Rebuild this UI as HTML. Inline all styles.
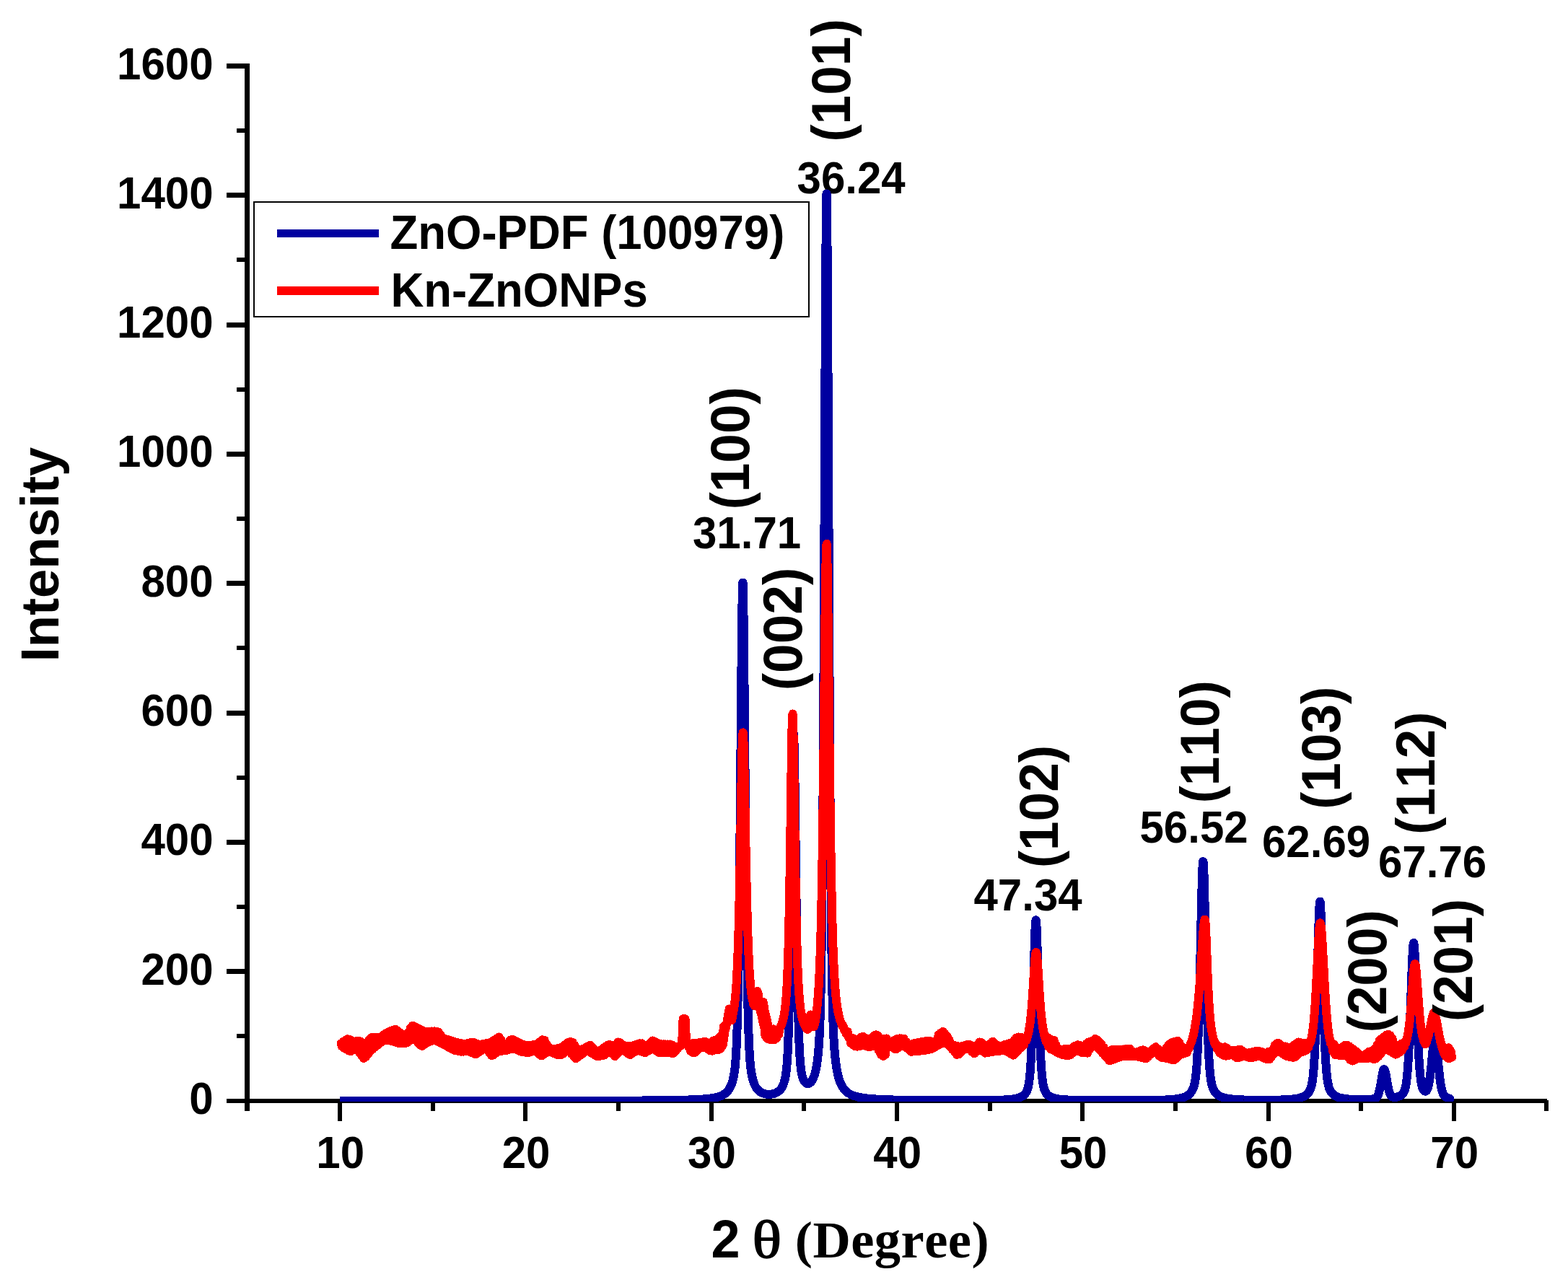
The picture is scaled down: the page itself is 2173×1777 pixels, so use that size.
<!DOCTYPE html>
<html lang="en"><head><meta charset="utf-8"><title>XRD pattern</title>
<style>html,body{margin:0;padding:0;background:#fff;overflow:hidden}svg{display:block}text{font-family:"Liberation Sans",sans-serif;font-weight:bold;fill:#000;font-kerning:none}.ser{font-family:"Liberation Serif",serif}</style></head><body>
<svg width="2173" height="1777" viewBox="0 0 2173 1777">
<rect width="2173" height="1777" fill="#fff"/>
<defs><clipPath id="plot"><rect x="343" y="0" width="1801" height="1527"/></clipPath></defs>
<g fill="#000" shape-rendering="crispEdges">
<rect x="339" y="88" width="7" height="1452"/>
<rect x="314" y="1523" width="1830" height="6"/>
<rect x="328" y="1433" width="11" height="6"/>
<rect x="314" y="1343" width="25" height="7"/>
<rect x="328" y="1254" width="11" height="6"/>
<rect x="314" y="1164" width="25" height="7"/>
<rect x="328" y="1075" width="11" height="6"/>
<rect x="314" y="985" width="25" height="7"/>
<rect x="328" y="895" width="11" height="6"/>
<rect x="314" y="805" width="25" height="7"/>
<rect x="328" y="716" width="11" height="6"/>
<rect x="314" y="626" width="25" height="7"/>
<rect x="328" y="537" width="11" height="6"/>
<rect x="314" y="447" width="25" height="7"/>
<rect x="328" y="357" width="11" height="6"/>
<rect x="314" y="267" width="25" height="7"/>
<rect x="328" y="178" width="11" height="6"/>
<rect x="314" y="88" width="25" height="7"/>
<rect x="468" y="1529" width="6" height="25"/>
<rect x="597" y="1529" width="6" height="11"/>
<rect x="725" y="1529" width="6" height="25"/>
<rect x="854" y="1529" width="6" height="11"/>
<rect x="983" y="1529" width="6" height="25"/>
<rect x="1111" y="1529" width="6" height="11"/>
<rect x="1240" y="1529" width="6" height="25"/>
<rect x="1369" y="1529" width="6" height="11"/>
<rect x="1497" y="1529" width="6" height="25"/>
<rect x="1626" y="1529" width="6" height="11"/>
<rect x="1755" y="1529" width="6" height="25"/>
<rect x="1883" y="1529" width="6" height="11"/>
<rect x="2012" y="1529" width="6" height="25"/>
<rect x="2140" y="1525" width="6" height="15"/>
</g>
<text font-size="60" text-anchor="end" transform="translate(295.5,1544.0) scale(1,1.04)">0</text>
<text font-size="60" text-anchor="end" transform="translate(295.5,1364.7) scale(1,1.04)">200</text>
<text font-size="60" text-anchor="end" transform="translate(295.5,1185.4) scale(1,1.04)">400</text>
<text font-size="60" text-anchor="end" transform="translate(295.5,1006.1) scale(1,1.04)">600</text>
<text font-size="60" text-anchor="end" transform="translate(295.5,826.8) scale(1,1.04)">800</text>
<text font-size="60" text-anchor="end" transform="translate(295.5,647.4) scale(1,1.04)">1000</text>
<text font-size="60" text-anchor="end" transform="translate(295.5,468.1) scale(1,1.04)">1200</text>
<text font-size="60" text-anchor="end" transform="translate(295.5,288.8) scale(1,1.04)">1400</text>
<text font-size="60" text-anchor="end" transform="translate(295.5,109.5) scale(1,1.04)">1600</text>
<text font-size="60" text-anchor="middle" transform="translate(471.7,1619.3) scale(1,1.04)">10</text>
<text font-size="60" text-anchor="middle" transform="translate(729.0,1619.3) scale(1,1.04)">20</text>
<text font-size="60" text-anchor="middle" transform="translate(986.4,1619.3) scale(1,1.04)">30</text>
<text font-size="60" text-anchor="middle" transform="translate(1243.7,1619.3) scale(1,1.04)">40</text>
<text font-size="60" text-anchor="middle" transform="translate(1501.0,1619.3) scale(1,1.04)">50</text>
<text font-size="60" text-anchor="middle" transform="translate(1758.4,1619.3) scale(1,1.04)">60</text>
<text font-size="60" text-anchor="middle" transform="translate(2015.7,1619.3) scale(1,1.04)">70</text>
<text font-size="72.4" text-anchor="middle" transform="translate(81.0,768.5) rotate(-90) scale(1,1.02)">Intensity</text>
<text font-size="72" transform="translate(985.6,1743.3) scale(1,1.04)" style="white-space:pre">2 </text>
<text class="ser" font-size="75" style="font-weight:normal" stroke="#000" stroke-width="1.5" stroke-linejoin="round" transform="translate(1042.6,1743) scale(1.13,0.985)">θ </text>
<text class="ser" font-size="72.5" letter-spacing="0.45" x="1101.8" y="1743.3">(Degree)</text>
<text font-size="60" transform="translate(1104.6,268.0) scale(1,1.04)">36.24</text>
<g clip-path="url(#plot)" fill="none" stroke-linejoin="round" stroke-linecap="round" shape-rendering="crispEdges">
<rect x="471" y="1520.0" width="6" height="12.0" fill="#0000A0"/>
<polyline stroke="#0000A0" stroke-width="12.0" points="476.5,1525.9 478.5,1525.9 480.5,1525.9 482.5,1525.9 484.5,1525.9 486.5,1525.9 488.5,1525.9 490.5,1525.9 492.5,1525.9 494.5,1525.9 496.5,1525.9 498.5,1525.9 500.5,1525.9 502.5,1525.9 504.5,1525.9 506.5,1525.9 508.5,1525.9 510.5,1525.9 512.5,1525.9 514.5,1525.9 516.5,1525.9 518.5,1525.9 520.5,1525.9 522.5,1525.9 524.5,1525.9 526.5,1525.9 528.5,1525.9 530.5,1525.9 532.5,1525.9 534.5,1525.9 536.5,1525.9 538.5,1525.9 540.5,1525.9 542.5,1525.9 544.5,1525.9 546.5,1525.9 548.5,1525.9 550.5,1525.9 552.5,1525.9 554.5,1525.9 556.5,1525.9 558.5,1525.9 560.5,1525.9 562.5,1525.9 564.5,1525.9 566.5,1525.9 568.5,1525.9 570.5,1525.9 572.5,1525.9 574.5,1525.9 576.5,1525.9 578.5,1525.9 580.5,1525.9 582.5,1525.9 584.5,1525.9 586.5,1525.9 588.5,1525.9 590.5,1525.9 592.5,1525.9 594.5,1525.9 596.5,1525.9 598.5,1525.9 600.5,1525.9 602.5,1525.9 604.5,1525.9 606.5,1525.9 608.5,1525.9 610.5,1525.9 612.5,1525.9 614.5,1525.9 616.5,1525.9 618.5,1525.9 620.5,1525.9 622.5,1525.9 624.5,1525.9 626.5,1525.9 628.5,1525.9 630.5,1525.9 632.5,1525.9 634.5,1525.9 636.5,1525.9 638.5,1525.9 640.5,1525.9 642.5,1525.9 644.5,1525.9 646.5,1525.9 648.5,1525.9 650.5,1525.9 652.5,1525.9 654.5,1525.9 656.5,1525.9 658.5,1525.9 660.5,1525.9 662.5,1525.9 664.5,1525.9 666.5,1525.9 668.5,1525.9 670.5,1525.9 672.5,1525.9 674.5,1525.9 676.5,1525.9 678.5,1525.9 680.5,1525.9 682.5,1525.9 684.5,1525.9 686.5,1525.9 688.5,1525.9 690.5,1525.9 692.5,1525.9 694.5,1525.9 696.5,1525.9 698.5,1525.9 700.5,1525.9 702.5,1525.9 704.5,1525.9 706.5,1525.9 708.5,1525.9 710.5,1525.9 712.5,1525.9 714.5,1525.9 716.5,1525.9 718.5,1525.9 720.5,1525.8 722.5,1525.8 724.5,1525.8 726.5,1525.8 728.5,1525.8 730.5,1525.8 732.5,1525.8 734.5,1525.8 736.5,1525.8 738.5,1525.8 740.5,1525.8 742.5,1525.8 744.5,1525.8 746.5,1525.8 748.5,1525.8 750.5,1525.8 752.5,1525.8 754.5,1525.8 756.5,1525.8 758.5,1525.8 760.5,1525.8 762.5,1525.8 764.5,1525.8 766.5,1525.8 768.5,1525.8 770.5,1525.8 772.5,1525.8 774.5,1525.8 776.5,1525.8 778.5,1525.8 780.5,1525.8 782.5,1525.8 784.5,1525.8 786.5,1525.8 788.5,1525.8 790.5,1525.8 792.5,1525.8 794.5,1525.8 796.5,1525.8 798.5,1525.8 800.5,1525.8 802.5,1525.8 804.5,1525.7 806.5,1525.7 808.5,1525.7 810.5,1525.7 812.5,1525.7 814.5,1525.7 816.5,1525.7 818.5,1525.7 820.5,1525.7 822.5,1525.7 824.5,1525.7 826.5,1525.7 828.5,1525.7 830.5,1525.7 832.5,1525.7 834.5,1525.7 836.5,1525.7 838.5,1525.7 840.5,1525.7 842.5,1525.7 844.5,1525.7 846.5,1525.6 848.5,1525.6 850.5,1525.6 852.5,1525.6 854.5,1525.6 856.5,1525.6 858.5,1525.6 860.5,1525.6 862.5,1525.6 864.5,1525.6 866.5,1525.6 868.5,1525.6 870.5,1525.6 872.5,1525.5 874.5,1525.5 876.5,1525.5 878.5,1525.5 880.5,1525.5 882.5,1525.5 884.5,1525.5 886.5,1525.5 888.5,1525.5 890.5,1525.5 892.5,1525.4 894.5,1525.4 896.5,1525.4 898.5,1525.4 900.5,1525.4 902.5,1525.4 904.5,1525.4 906.5,1525.3 908.5,1525.3 910.5,1525.3 912.5,1525.3 914.5,1525.3 916.5,1525.2 918.5,1525.2 920.5,1525.2 922.5,1525.2 924.5,1525.1 926.5,1525.1 928.5,1525.1 930.5,1525.1 932.5,1525.0 934.5,1525.0 936.5,1525.0 938.5,1524.9 940.5,1524.9 942.5,1524.8 944.5,1524.8 946.5,1524.7 948.5,1524.7 950.5,1524.6 952.5,1524.6 954.5,1524.5 956.5,1524.4 958.5,1524.4 960.5,1524.3 962.5,1524.2 964.5,1524.1 966.5,1524.0 968.5,1523.9 970.5,1523.8 972.5,1523.7 974.5,1523.5 976.5,1523.4 978.5,1523.2 980.5,1523.0 982.5,1522.8 984.5,1522.5 986.5,1522.2 988.5,1521.9 990.5,1521.5 991.0,1521.4 991.5,1521.3 992.0,1521.2 992.5,1521.1 993.0,1521.0 993.5,1520.8 994.0,1520.7 994.5,1520.6 995.0,1520.4 995.5,1520.3 996.0,1520.1 996.5,1520.0 997.0,1519.8 997.5,1519.6 998.0,1519.4 998.5,1519.3 999.0,1519.1 999.5,1518.8 1000.0,1518.6 1000.5,1518.4 1001.0,1518.1 1001.5,1517.9 1002.0,1517.6 1002.5,1517.3 1003.0,1517.0 1003.5,1516.7 1004.0,1516.4 1004.5,1516.1 1005.0,1515.7 1005.5,1515.3 1006.0,1514.9 1006.5,1514.4 1007.0,1513.9 1007.5,1513.4 1008.0,1512.9 1008.5,1512.3 1009.0,1511.7 1009.5,1511.1 1010.0,1510.4 1010.5,1509.6 1011.0,1508.8 1011.5,1507.9 1012.0,1506.9 1012.5,1505.9 1013.0,1504.8 1013.5,1503.6 1014.0,1502.2 1014.5,1500.8 1015.0,1499.1 1015.5,1497.4 1016.0,1495.4 1016.5,1493.1 1017.0,1490.6 1017.5,1487.6 1017.8,1486.0 1018.0,1484.2 1018.2,1482.3 1018.5,1480.2 1018.8,1477.8 1019.0,1475.3 1019.2,1472.4 1019.5,1469.3 1019.8,1465.8 1020.0,1462.0 1020.2,1457.7 1020.5,1452.9 1020.8,1447.5 1021.0,1441.6 1021.2,1434.9 1021.5,1427.5 1021.8,1419.3 1022.0,1410.2 1022.2,1400.1 1022.5,1388.9 1022.8,1376.6 1023.0,1363.1 1023.2,1348.4 1023.5,1332.4 1023.8,1315.0 1024.0,1296.2 1024.2,1276.0 1024.5,1254.5 1024.8,1231.6 1025.0,1207.3 1025.2,1181.8 1025.5,1155.2 1025.8,1127.6 1026.0,1099.1 1026.2,1069.9 1026.5,1040.4 1026.8,1010.8 1027.0,981.4 1027.2,952.8 1027.5,925.2 1027.8,899.3 1028.0,875.6 1028.2,854.6 1028.5,836.9 1028.8,823.0 1029.0,813.3 1029.2,808.1 1029.5,807.6 1029.8,811.8 1030.0,820.7 1030.2,833.8 1030.5,850.7 1030.8,871.1 1031.0,894.3 1031.2,919.8 1031.5,947.0 1031.8,975.5 1032.0,1004.7 1032.2,1034.3 1032.5,1063.8 1032.8,1093.0 1033.0,1121.7 1033.2,1149.5 1033.5,1176.3 1033.8,1202.0 1034.0,1226.5 1034.2,1249.7 1034.5,1271.5 1034.8,1291.9 1035.0,1310.9 1035.2,1328.6 1035.5,1344.9 1035.8,1359.8 1036.0,1373.6 1036.2,1386.1 1036.5,1397.4 1036.8,1407.7 1037.0,1417.0 1037.2,1425.4 1037.5,1432.9 1037.8,1439.7 1038.0,1445.8 1038.2,1451.2 1038.5,1456.1 1038.8,1460.5 1039.0,1464.4 1039.2,1467.9 1039.5,1471.1 1039.8,1474.0 1040.0,1476.6 1040.2,1478.9 1040.5,1481.1 1040.8,1483.0 1041.0,1484.8 1041.2,1486.5 1041.5,1488.0 1042.0,1490.7 1042.5,1493.1 1043.0,1495.2 1043.5,1497.1 1044.0,1498.7 1044.5,1500.2 1045.0,1501.6 1045.5,1502.8 1046.0,1504.0 1046.5,1505.0 1047.0,1506.0 1047.5,1506.9 1048.0,1507.7 1048.5,1508.4 1049.0,1509.1 1049.5,1509.7 1050.0,1510.3 1050.5,1510.9 1051.0,1511.4 1051.5,1511.9 1052.0,1512.3 1052.5,1512.7 1053.0,1513.1 1053.5,1513.4 1054.0,1513.7 1054.5,1514.0 1055.0,1514.3 1055.5,1514.6 1056.0,1514.8 1056.5,1515.0 1057.0,1515.3 1057.5,1515.4 1058.0,1515.6 1058.5,1515.8 1059.0,1515.9 1059.5,1516.1 1060.0,1516.2 1060.5,1516.3 1061.0,1516.4 1061.5,1516.5 1062.0,1516.6 1062.5,1516.6 1063.0,1516.7 1063.5,1516.7 1064.0,1516.8 1064.5,1516.8 1065.0,1516.8 1065.5,1516.8 1066.0,1516.8 1066.5,1516.8 1067.0,1516.8 1067.5,1516.8 1068.0,1516.7 1068.5,1516.7 1069.0,1516.6 1069.5,1516.5 1070.0,1516.5 1070.5,1516.4 1071.0,1516.3 1071.5,1516.2 1072.0,1516.0 1072.5,1515.9 1073.0,1515.8 1073.5,1515.6 1074.0,1515.4 1074.5,1515.2 1075.0,1515.0 1075.5,1514.8 1076.0,1514.5 1076.5,1514.3 1077.0,1514.0 1077.5,1513.7 1078.0,1513.4 1078.5,1513.0 1079.0,1512.6 1079.5,1512.2 1080.0,1511.8 1080.5,1511.3 1081.0,1510.7 1081.5,1510.2 1082.0,1509.5 1082.5,1508.9 1083.0,1508.1 1083.5,1507.4 1084.0,1506.5 1084.5,1505.5 1085.0,1504.5 1085.5,1503.3 1086.0,1502.0 1086.5,1500.6 1087.0,1499.0 1087.5,1497.1 1088.0,1495.0 1088.2,1493.8 1088.5,1492.5 1088.8,1491.1 1089.0,1489.5 1089.2,1487.8 1089.5,1485.9 1089.8,1483.9 1090.0,1481.6 1090.2,1479.0 1090.5,1476.2 1090.8,1473.0 1091.0,1469.5 1091.2,1465.5 1091.5,1461.2 1091.8,1456.3 1092.0,1450.8 1092.2,1444.8 1092.5,1438.1 1092.8,1430.7 1093.0,1422.5 1093.2,1413.5 1093.5,1403.7 1093.8,1393.0 1094.0,1381.3 1094.2,1368.7 1094.5,1355.1 1094.8,1340.5 1095.0,1325.0 1095.2,1308.5 1095.5,1291.1 1095.8,1272.8 1096.0,1253.8 1096.2,1234.1 1096.5,1213.9 1096.8,1193.2 1097.0,1172.4 1097.2,1151.6 1097.5,1131.1 1097.8,1111.3 1098.0,1092.3 1098.2,1074.6 1098.5,1058.7 1098.8,1044.8 1099.0,1033.3 1099.2,1024.7 1099.5,1019.1 1099.8,1016.7 1100.0,1017.7 1100.2,1021.9 1100.5,1029.3 1100.8,1039.6 1101.0,1052.5 1101.2,1067.6 1101.5,1084.5 1101.8,1102.9 1102.0,1122.4 1102.2,1142.6 1102.5,1163.2 1102.8,1184.0 1103.0,1204.6 1103.2,1225.0 1103.5,1244.8 1103.8,1264.1 1104.0,1282.6 1104.2,1300.2 1104.5,1317.0 1104.8,1332.9 1105.0,1347.7 1105.2,1361.6 1105.5,1374.6 1105.8,1386.5 1106.0,1397.5 1106.2,1407.6 1106.5,1416.9 1106.8,1425.3 1107.0,1432.9 1107.2,1439.8 1107.5,1446.0 1107.8,1451.5 1108.0,1456.5 1108.2,1461.0 1108.5,1465.0 1108.8,1468.6 1109.0,1471.8 1109.2,1474.7 1109.5,1477.3 1109.8,1479.6 1110.0,1481.6 1110.2,1483.5 1110.5,1485.1 1110.8,1486.6 1111.0,1488.0 1111.2,1489.2 1111.5,1490.3 1111.8,1491.4 1112.0,1492.3 1112.5,1493.9 1113.0,1495.4 1113.5,1496.6 1114.0,1497.6 1114.5,1498.5 1115.0,1499.3 1115.5,1499.9 1116.0,1500.5 1116.5,1500.9 1117.0,1501.3 1117.5,1501.6 1118.0,1501.9 1118.5,1502.0 1119.0,1502.1 1119.5,1502.1 1120.0,1502.1 1120.5,1502.0 1121.0,1501.9 1121.5,1501.7 1122.0,1501.4 1122.5,1501.0 1123.0,1500.6 1123.5,1500.1 1124.0,1499.6 1124.5,1499.0 1125.0,1498.3 1125.5,1497.5 1126.0,1496.6 1126.5,1495.7 1127.0,1494.6 1127.5,1493.4 1128.0,1492.1 1128.5,1490.7 1129.0,1489.1 1129.5,1487.4 1130.0,1485.5 1130.5,1483.3 1131.0,1481.0 1131.5,1478.3 1132.0,1475.4 1132.5,1472.1 1133.0,1468.4 1133.5,1464.1 1134.0,1459.1 1134.2,1456.4 1134.5,1453.3 1134.8,1450.0 1135.0,1446.4 1135.2,1442.4 1135.5,1438.0 1135.8,1433.1 1136.0,1427.6 1136.2,1421.5 1136.5,1414.7 1136.8,1407.0 1137.0,1398.5 1137.2,1388.9 1137.5,1378.1 1137.8,1365.9 1138.0,1352.4 1138.2,1337.2 1138.5,1320.2 1138.8,1301.4 1139.0,1280.4 1139.2,1257.3 1139.5,1231.8 1139.8,1203.8 1140.0,1173.3 1140.2,1140.1 1140.5,1104.3 1140.8,1065.7 1141.0,1024.5 1141.2,980.6 1141.5,934.3 1141.8,885.7 1142.0,835.1 1142.2,782.8 1142.5,729.3 1142.8,674.9 1143.0,620.4 1143.2,566.5 1143.5,514.0 1143.8,463.9 1144.0,417.1 1144.2,374.9 1144.5,338.4 1144.8,308.6 1145.0,286.5 1145.2,273.0 1145.5,268.4 1145.8,273.0 1146.0,286.6 1146.2,308.7 1146.5,338.6 1146.8,375.2 1147.0,417.4 1147.2,464.2 1147.5,514.4 1147.8,566.9 1148.0,620.9 1148.2,675.4 1148.5,729.8 1148.8,783.4 1149.0,835.8 1149.2,886.4 1149.5,935.1 1149.8,981.4 1150.0,1025.3 1150.2,1066.6 1150.5,1105.2 1150.8,1141.1 1151.0,1174.3 1151.2,1204.9 1151.5,1232.9 1151.8,1258.5 1152.0,1281.7 1152.2,1302.6 1152.5,1321.5 1152.8,1338.5 1153.0,1353.8 1153.2,1367.4 1153.5,1379.6 1153.8,1390.4 1154.0,1400.1 1154.2,1408.7 1154.5,1416.4 1154.8,1423.3 1155.0,1429.5 1155.2,1435.0 1155.5,1439.9 1155.8,1444.4 1156.0,1448.5 1156.2,1452.2 1156.5,1455.5 1156.8,1458.6 1157.0,1461.5 1157.2,1464.1 1157.5,1466.6 1158.0,1471.0 1158.5,1474.8 1159.0,1478.3 1159.5,1481.4 1160.0,1484.1 1160.5,1486.7 1161.0,1489.0 1161.5,1491.0 1162.0,1493.0 1162.5,1494.7 1163.0,1496.4 1163.5,1497.9 1164.0,1499.2 1164.5,1500.5 1165.0,1501.7 1165.5,1502.8 1166.0,1503.9 1166.5,1504.8 1167.0,1505.7 1167.5,1506.6 1168.0,1507.4 1168.5,1508.1 1169.0,1508.8 1169.5,1509.5 1170.0,1510.1 1170.5,1510.7 1171.0,1511.2 1171.5,1511.7 1172.0,1512.2 1172.5,1512.7 1173.0,1513.2 1173.5,1513.6 1174.0,1514.0 1174.5,1514.4 1175.0,1514.7 1175.5,1515.1 1176.0,1515.4 1176.5,1515.7 1177.0,1516.0 1177.5,1516.3 1178.0,1516.6 1178.5,1516.8 1179.0,1517.1 1179.5,1517.3 1180.0,1517.5 1180.5,1517.8 1181.0,1518.0 1181.5,1518.2 1182.0,1518.4 1182.5,1518.6 1183.0,1518.7 1183.5,1518.9 1184.0,1519.1 1184.5,1519.2 1185.0,1519.4 1185.5,1519.5 1187.5,1520.1 1189.5,1520.6 1191.5,1521.0 1193.5,1521.4 1195.5,1521.7 1197.5,1522.0 1199.5,1522.2 1201.5,1522.5 1203.5,1522.7 1205.5,1522.9 1207.5,1523.0 1209.5,1523.2 1211.5,1523.4 1213.5,1523.5 1215.5,1523.6 1217.5,1523.7 1219.5,1523.8 1221.5,1523.9 1223.5,1524.0 1225.5,1524.1 1227.5,1524.2 1229.5,1524.2 1231.5,1524.3 1233.5,1524.4 1235.5,1524.4 1237.5,1524.5 1239.5,1524.5 1241.5,1524.6 1243.5,1524.6 1245.5,1524.7 1247.5,1524.7 1249.5,1524.8 1251.5,1524.8 1253.5,1524.8 1255.5,1524.9 1257.5,1524.9 1259.5,1524.9 1261.5,1525.0 1263.5,1525.0 1265.5,1525.0 1267.5,1525.0 1269.5,1525.0 1271.5,1525.1 1273.5,1525.1 1275.5,1525.1 1277.5,1525.1 1279.5,1525.1 1281.5,1525.2 1283.5,1525.2 1285.5,1525.2 1287.5,1525.2 1289.5,1525.2 1291.5,1525.2 1293.5,1525.2 1295.5,1525.2 1297.5,1525.3 1299.5,1525.3 1301.5,1525.3 1303.5,1525.3 1305.5,1525.3 1307.5,1525.3 1309.5,1525.3 1311.5,1525.3 1313.5,1525.3 1315.5,1525.3 1317.5,1525.3 1319.5,1525.3 1321.5,1525.3 1323.5,1525.3 1325.5,1525.3 1327.5,1525.3 1329.5,1525.3 1331.5,1525.3 1333.5,1525.3 1335.5,1525.3 1337.5,1525.3 1339.5,1525.3 1341.5,1525.3 1343.5,1525.3 1345.5,1525.3 1347.5,1525.3 1349.5,1525.3 1351.5,1525.3 1353.5,1525.3 1355.5,1525.3 1357.5,1525.2 1359.5,1525.2 1361.5,1525.2 1363.5,1525.2 1365.5,1525.2 1367.5,1525.1 1369.5,1525.1 1371.5,1525.1 1373.5,1525.1 1375.5,1525.0 1377.5,1525.0 1379.5,1524.9 1381.5,1524.9 1383.5,1524.8 1385.5,1524.8 1387.5,1524.7 1389.5,1524.6 1391.5,1524.5 1393.5,1524.4 1395.5,1524.3 1397.5,1524.1 1398.0,1524.1 1398.5,1524.0 1399.0,1524.0 1399.5,1523.9 1400.0,1523.9 1400.5,1523.8 1401.0,1523.8 1401.5,1523.7 1402.0,1523.7 1402.5,1523.6 1403.0,1523.6 1403.5,1523.5 1404.0,1523.4 1404.5,1523.4 1405.0,1523.3 1405.5,1523.2 1406.0,1523.1 1406.5,1523.0 1407.0,1522.9 1407.5,1522.8 1408.0,1522.7 1408.5,1522.6 1409.0,1522.5 1409.5,1522.4 1410.0,1522.3 1410.5,1522.1 1411.0,1522.0 1411.5,1521.8 1412.0,1521.7 1412.5,1521.5 1413.0,1521.3 1413.5,1521.1 1414.0,1520.9 1414.5,1520.7 1415.0,1520.5 1415.5,1520.2 1416.0,1520.0 1416.5,1519.7 1417.0,1519.4 1417.5,1519.0 1418.0,1518.7 1418.5,1518.3 1419.0,1517.8 1419.5,1517.4 1420.0,1516.9 1420.5,1516.3 1421.0,1515.7 1421.5,1515.0 1422.0,1514.2 1422.5,1513.3 1423.0,1512.3 1423.5,1511.2 1424.0,1509.8 1424.2,1509.0 1424.5,1508.1 1424.8,1507.2 1425.0,1506.2 1425.2,1505.0 1425.5,1503.8 1425.8,1502.4 1426.0,1500.8 1426.2,1499.1 1426.5,1497.2 1426.8,1495.1 1427.0,1492.8 1427.2,1490.3 1427.5,1487.5 1427.8,1484.4 1428.0,1481.0 1428.2,1477.2 1428.5,1473.2 1428.8,1468.7 1429.0,1463.9 1429.2,1458.7 1429.5,1453.1 1429.8,1447.0 1430.0,1440.6 1430.2,1433.7 1430.5,1426.4 1430.8,1418.7 1431.0,1410.6 1431.2,1402.2 1431.5,1393.4 1431.8,1384.3 1432.0,1375.0 1432.2,1365.5 1432.5,1355.9 1432.8,1346.3 1433.0,1336.7 1433.2,1327.4 1433.5,1318.4 1433.8,1309.8 1434.0,1301.8 1434.2,1294.7 1434.5,1288.4 1434.8,1283.2 1435.0,1279.2 1435.2,1276.5 1435.5,1275.3 1435.8,1275.4 1436.0,1277.0 1436.2,1279.9 1436.5,1284.1 1436.8,1289.6 1437.0,1296.0 1437.2,1303.4 1437.5,1311.5 1437.8,1320.1 1438.0,1329.2 1438.2,1338.6 1438.5,1348.2 1438.8,1357.8 1439.0,1367.4 1439.2,1376.9 1439.5,1386.1 1439.8,1395.2 1440.0,1403.9 1440.2,1412.3 1440.5,1420.3 1440.8,1427.9 1441.0,1435.1 1441.2,1441.9 1441.5,1448.3 1441.8,1454.2 1442.0,1459.8 1442.2,1464.9 1442.5,1469.7 1442.8,1474.0 1443.0,1478.0 1443.2,1481.7 1443.5,1485.0 1443.8,1488.1 1444.0,1490.8 1444.2,1493.3 1444.5,1495.6 1444.8,1497.6 1445.0,1499.5 1445.2,1501.2 1445.5,1502.7 1445.8,1504.0 1446.0,1505.3 1446.2,1506.4 1446.5,1507.4 1446.8,1508.3 1447.0,1509.2 1447.2,1509.9 1447.5,1510.6 1447.8,1511.3 1448.2,1512.4 1448.8,1513.4 1449.2,1514.3 1449.8,1515.1 1450.2,1515.8 1450.8,1516.4 1451.2,1516.9 1451.8,1517.4 1452.2,1517.9 1452.8,1518.3 1453.2,1518.7 1453.8,1519.1 1454.2,1519.4 1454.8,1519.7 1455.2,1520.0 1455.8,1520.3 1456.2,1520.5 1456.8,1520.8 1457.2,1521.0 1457.8,1521.2 1458.2,1521.4 1458.8,1521.6 1459.2,1521.7 1459.8,1521.9 1460.2,1522.0 1460.8,1522.2 1461.2,1522.3 1461.8,1522.4 1462.2,1522.5 1462.8,1522.7 1463.2,1522.8 1463.8,1522.9 1464.2,1523.0 1464.8,1523.1 1465.2,1523.1 1465.8,1523.2 1466.2,1523.3 1466.8,1523.4 1467.2,1523.5 1467.8,1523.5 1468.2,1523.6 1468.8,1523.7 1469.2,1523.7 1469.8,1523.8 1470.2,1523.8 1470.8,1523.9 1471.2,1523.9 1471.8,1524.0 1472.2,1524.0 1472.8,1524.1 1473.2,1524.1 1473.8,1524.2 1474.2,1524.2 1474.8,1524.2 1475.2,1524.3 1475.8,1524.3 1477.8,1524.4 1479.8,1524.5 1481.8,1524.6 1483.8,1524.7 1485.8,1524.8 1487.8,1524.9 1489.8,1524.9 1491.8,1525.0 1493.8,1525.0 1495.8,1525.1 1497.8,1525.1 1499.8,1525.1 1501.8,1525.2 1503.8,1525.2 1505.8,1525.2 1507.8,1525.3 1509.8,1525.3 1511.8,1525.3 1513.8,1525.3 1515.8,1525.3 1517.8,1525.3 1519.8,1525.4 1521.8,1525.4 1523.8,1525.4 1525.8,1525.4 1527.8,1525.4 1529.8,1525.4 1531.8,1525.4 1533.8,1525.4 1535.8,1525.4 1537.8,1525.4 1539.8,1525.4 1541.8,1525.4 1543.8,1525.4 1545.8,1525.4 1547.8,1525.4 1549.8,1525.4 1551.8,1525.4 1553.8,1525.4 1555.8,1525.4 1557.8,1525.4 1559.8,1525.4 1561.8,1525.4 1563.8,1525.4 1565.8,1525.4 1567.8,1525.4 1569.8,1525.3 1571.8,1525.3 1573.8,1525.3 1575.8,1525.3 1577.8,1525.3 1579.8,1525.3 1581.8,1525.3 1583.8,1525.2 1585.8,1525.2 1587.8,1525.2 1589.8,1525.2 1591.8,1525.1 1593.8,1525.1 1595.8,1525.1 1597.8,1525.0 1599.8,1525.0 1601.8,1524.9 1603.8,1524.9 1605.8,1524.8 1607.8,1524.8 1609.8,1524.7 1611.8,1524.6 1613.8,1524.5 1615.8,1524.5 1617.8,1524.3 1619.8,1524.2 1621.8,1524.1 1623.8,1523.9 1625.8,1523.8 1627.8,1523.5 1628.2,1523.5 1628.8,1523.4 1629.2,1523.4 1629.8,1523.3 1630.2,1523.2 1630.8,1523.2 1631.2,1523.1 1631.8,1523.0 1632.2,1523.0 1632.8,1522.9 1633.2,1522.8 1633.8,1522.7 1634.2,1522.6 1634.8,1522.5 1635.2,1522.4 1635.8,1522.3 1636.2,1522.2 1636.8,1522.1 1637.2,1522.0 1637.8,1521.8 1638.2,1521.7 1638.8,1521.6 1639.2,1521.4 1639.8,1521.3 1640.2,1521.1 1640.8,1520.9 1641.2,1520.7 1641.8,1520.6 1642.2,1520.3 1642.8,1520.1 1643.2,1519.9 1643.8,1519.7 1644.2,1519.4 1644.8,1519.1 1645.2,1518.8 1645.8,1518.5 1646.2,1518.2 1646.8,1517.8 1647.2,1517.5 1647.8,1517.1 1648.2,1516.6 1648.8,1516.1 1649.2,1515.6 1649.8,1515.1 1650.2,1514.5 1650.8,1513.8 1651.2,1513.1 1651.8,1512.3 1652.2,1511.5 1652.8,1510.5 1653.2,1509.4 1653.8,1508.2 1654.2,1506.8 1654.8,1505.2 1655.2,1503.2 1655.8,1500.9 1656.0,1499.6 1656.2,1498.2 1656.5,1496.6 1656.8,1494.9 1657.0,1493.0 1657.2,1491.0 1657.5,1488.7 1657.8,1486.2 1658.0,1483.4 1658.2,1480.4 1658.5,1477.0 1658.8,1473.4 1659.0,1469.4 1659.2,1465.1 1659.5,1460.3 1659.8,1455.2 1660.0,1449.7 1660.2,1443.7 1660.5,1437.2 1660.8,1430.3 1661.0,1422.9 1661.2,1415.0 1661.5,1406.6 1661.8,1397.7 1662.0,1388.4 1662.2,1378.6 1662.5,1368.4 1662.8,1357.7 1663.0,1346.7 1663.2,1335.4 1663.5,1323.8 1663.8,1312.0 1664.0,1300.1 1664.2,1288.2 1664.5,1276.4 1664.8,1264.8 1665.0,1253.6 1665.2,1242.8 1665.5,1232.7 1665.8,1223.5 1666.0,1215.2 1666.2,1208.1 1666.5,1202.3 1666.8,1198.0 1667.0,1195.2 1667.2,1194.0 1667.5,1194.5 1667.8,1196.7 1668.0,1200.4 1668.2,1205.6 1668.5,1212.2 1668.8,1220.0 1669.0,1228.9 1669.2,1238.7 1669.5,1249.2 1669.8,1260.3 1670.0,1271.7 1670.2,1283.5 1670.5,1295.4 1670.8,1307.3 1671.0,1319.1 1671.2,1330.8 1671.5,1342.2 1671.8,1353.4 1672.0,1364.1 1672.2,1374.5 1672.5,1384.5 1672.8,1394.0 1673.0,1403.1 1673.2,1411.7 1673.5,1419.8 1673.8,1427.4 1674.0,1434.5 1674.2,1441.1 1674.5,1447.3 1674.8,1453.0 1675.0,1458.3 1675.2,1463.2 1675.5,1467.7 1675.8,1471.8 1676.0,1475.6 1676.2,1479.0 1676.5,1482.2 1676.8,1485.1 1677.0,1487.7 1677.2,1490.0 1677.5,1492.2 1677.8,1494.2 1678.0,1496.0 1678.2,1497.6 1678.5,1499.1 1678.8,1500.4 1679.0,1501.6 1679.2,1502.8 1679.5,1503.8 1680.0,1505.6 1680.5,1507.2 1681.0,1508.6 1681.5,1509.7 1682.0,1510.8 1682.5,1511.7 1683.0,1512.6 1683.5,1513.3 1684.0,1514.0 1684.5,1514.6 1685.0,1515.2 1685.5,1515.8 1686.0,1516.2 1686.5,1516.7 1687.0,1517.1 1687.5,1517.5 1688.0,1517.9 1688.5,1518.3 1689.0,1518.6 1689.5,1518.9 1690.0,1519.2 1690.5,1519.4 1691.0,1519.7 1691.5,1519.9 1692.0,1520.1 1692.5,1520.4 1693.0,1520.6 1693.5,1520.7 1694.0,1520.9 1694.5,1521.1 1695.0,1521.2 1695.5,1521.4 1696.0,1521.5 1696.5,1521.7 1697.0,1521.8 1697.5,1521.9 1698.0,1522.0 1698.5,1522.2 1699.0,1522.3 1699.5,1522.4 1700.0,1522.5 1700.5,1522.6 1701.0,1522.6 1701.5,1522.7 1702.0,1522.8 1702.5,1522.9 1703.0,1523.0 1703.5,1523.0 1704.0,1523.1 1704.5,1523.2 1705.0,1523.2 1705.5,1523.3 1706.0,1523.4 1706.5,1523.4 1707.0,1523.5 1707.5,1523.5 1709.5,1523.7 1711.5,1523.9 1713.5,1524.0 1715.5,1524.1 1717.5,1524.2 1719.5,1524.3 1721.5,1524.4 1723.5,1524.5 1725.5,1524.5 1727.5,1524.6 1729.5,1524.7 1731.5,1524.7 1733.5,1524.7 1735.5,1524.8 1737.5,1524.8 1739.5,1524.8 1741.5,1524.8 1743.5,1524.8 1745.5,1524.9 1747.5,1524.9 1749.5,1524.9 1751.5,1524.9 1753.5,1524.9 1755.5,1524.8 1757.5,1524.8 1759.5,1524.8 1761.5,1524.8 1763.5,1524.8 1765.5,1524.7 1767.5,1524.7 1769.5,1524.7 1771.5,1524.6 1773.5,1524.6 1775.5,1524.5 1777.5,1524.4 1779.5,1524.3 1781.5,1524.2 1783.5,1524.1 1785.5,1524.0 1787.5,1523.9 1789.5,1523.7 1790.0,1523.6 1790.5,1523.6 1791.0,1523.5 1791.5,1523.5 1792.0,1523.4 1792.5,1523.4 1793.0,1523.3 1793.5,1523.3 1794.0,1523.2 1794.5,1523.1 1795.0,1523.1 1795.5,1523.0 1796.0,1522.9 1796.5,1522.8 1797.0,1522.7 1797.5,1522.7 1798.0,1522.6 1798.5,1522.5 1799.0,1522.4 1799.5,1522.3 1800.0,1522.1 1800.5,1522.0 1801.0,1521.9 1801.5,1521.8 1802.0,1521.6 1802.5,1521.5 1803.0,1521.3 1803.5,1521.2 1804.0,1521.0 1804.5,1520.8 1805.0,1520.6 1805.5,1520.4 1806.0,1520.2 1806.5,1520.0 1807.0,1519.7 1807.5,1519.5 1808.0,1519.2 1808.5,1518.9 1809.0,1518.6 1809.5,1518.3 1810.0,1517.9 1810.5,1517.5 1811.0,1517.1 1811.5,1516.6 1812.0,1516.1 1812.5,1515.6 1813.0,1515.0 1813.5,1514.3 1814.0,1513.6 1814.5,1512.8 1815.0,1511.9 1815.5,1510.9 1816.0,1509.8 1816.5,1508.4 1817.0,1506.8 1817.5,1505.0 1817.8,1503.9 1818.0,1502.7 1818.2,1501.5 1818.5,1500.1 1818.8,1498.6 1819.0,1496.9 1819.2,1495.0 1819.5,1493.0 1819.8,1490.8 1820.0,1488.4 1820.2,1485.7 1820.5,1482.8 1820.8,1479.7 1821.0,1476.2 1821.2,1472.4 1821.5,1468.4 1821.8,1464.0 1822.0,1459.2 1822.2,1454.1 1822.5,1448.6 1822.8,1442.8 1823.0,1436.5 1823.2,1429.9 1823.5,1422.8 1823.8,1415.4 1824.0,1407.6 1824.2,1399.5 1824.5,1391.0 1824.8,1382.2 1825.0,1373.2 1825.2,1363.9 1825.5,1354.4 1825.8,1344.7 1826.0,1335.0 1826.2,1325.3 1826.5,1315.8 1826.8,1306.4 1827.0,1297.3 1827.2,1288.6 1827.5,1280.5 1827.8,1273.0 1828.0,1266.4 1828.2,1260.7 1828.5,1256.1 1828.8,1252.6 1829.0,1250.4 1829.2,1249.5 1829.5,1249.9 1829.8,1251.6 1830.0,1254.6 1830.2,1258.7 1830.5,1264.0 1830.8,1270.3 1831.0,1277.4 1831.2,1285.3 1831.5,1293.7 1831.8,1302.7 1832.0,1312.0 1832.2,1321.5 1832.5,1331.1 1832.8,1340.8 1833.0,1350.5 1833.2,1360.1 1833.5,1369.5 1833.8,1378.6 1834.0,1387.5 1834.2,1396.1 1834.5,1404.4 1834.8,1412.3 1835.0,1419.9 1835.2,1427.1 1835.5,1433.9 1835.8,1440.3 1836.0,1446.3 1836.2,1451.9 1836.5,1457.2 1836.8,1462.1 1837.0,1466.6 1837.2,1470.8 1837.5,1474.7 1837.8,1478.3 1838.0,1481.6 1838.2,1484.6 1838.5,1487.3 1838.8,1489.8 1839.0,1492.1 1839.2,1494.2 1839.5,1496.1 1839.8,1497.9 1840.0,1499.5 1840.2,1500.9 1840.5,1502.2 1840.8,1503.4 1841.0,1504.5 1841.2,1505.5 1841.5,1506.4 1842.0,1508.1 1842.5,1509.5 1843.0,1510.7 1843.5,1511.7 1844.0,1512.6 1844.5,1513.4 1845.0,1514.2 1845.5,1514.8 1846.0,1515.4 1846.5,1516.0 1847.0,1516.5 1847.5,1516.9 1848.0,1517.4 1848.5,1517.8 1849.0,1518.1 1849.5,1518.5 1850.0,1518.8 1850.5,1519.1 1851.0,1519.4 1851.5,1519.6 1852.0,1519.9 1852.5,1520.1 1853.0,1520.3 1853.5,1520.5 1854.0,1520.7 1854.5,1520.9 1855.0,1521.1 1855.5,1521.2 1856.0,1521.4 1856.5,1521.5 1857.0,1521.7 1857.5,1521.8 1858.0,1521.9 1858.5,1522.0 1859.0,1522.1 1859.5,1522.2 1860.0,1522.3 1860.5,1522.4 1861.0,1522.5 1861.5,1522.6 1862.0,1522.7 1862.5,1522.8 1863.0,1522.8 1863.5,1522.9 1864.0,1523.0 1864.5,1523.0 1865.0,1523.1 1865.5,1523.2 1866.0,1523.2 1866.5,1523.3 1867.0,1523.3 1867.5,1523.4 1868.0,1523.4 1868.5,1523.5 1869.0,1523.5 1869.5,1523.5 1871.5,1523.7 1873.5,1523.8 1875.5,1523.9 1877.5,1524.0 1879.5,1524.1 1880.0,1524.1 1880.5,1524.1 1881.0,1524.1 1881.5,1524.1 1882.0,1524.1 1882.5,1524.1 1883.0,1524.1 1883.5,1524.1 1884.0,1524.2 1884.5,1524.2 1885.0,1524.2 1885.5,1524.2 1886.0,1524.2 1886.5,1524.2 1887.0,1524.2 1887.5,1524.2 1888.0,1524.2 1888.5,1524.2 1889.0,1524.2 1889.5,1524.2 1890.0,1524.2 1890.5,1524.1 1891.0,1524.1 1891.5,1524.1 1892.0,1524.1 1892.5,1524.1 1893.0,1524.1 1893.5,1524.1 1894.0,1524.1 1894.5,1524.1 1895.0,1524.0 1895.5,1524.0 1896.0,1524.0 1896.5,1524.0 1897.0,1523.9 1897.5,1523.9 1898.0,1523.9 1898.5,1523.8 1899.0,1523.8 1899.5,1523.8 1900.0,1523.7 1900.5,1523.7 1901.0,1523.6 1901.5,1523.6 1902.0,1523.5 1902.5,1523.4 1903.0,1523.3 1903.5,1523.2 1904.0,1523.1 1904.5,1523.0 1905.0,1522.8 1905.5,1522.6 1906.0,1522.4 1906.5,1522.1 1906.8,1521.9 1907.0,1521.8 1907.2,1521.5 1907.5,1521.3 1907.8,1521.0 1908.0,1520.8 1908.2,1520.4 1908.5,1520.1 1908.8,1519.7 1909.0,1519.2 1909.2,1518.8 1909.5,1518.2 1909.8,1517.7 1910.0,1517.0 1910.2,1516.4 1910.5,1515.6 1910.8,1514.8 1911.0,1514.0 1911.2,1513.0 1911.5,1512.1 1911.8,1511.0 1912.0,1509.9 1912.2,1508.8 1912.5,1507.5 1912.8,1506.3 1913.0,1504.9 1913.2,1503.6 1913.5,1502.2 1913.8,1500.7 1914.0,1499.3 1914.2,1497.8 1914.5,1496.3 1914.8,1494.8 1915.0,1493.3 1915.2,1491.9 1915.5,1490.5 1915.8,1489.1 1916.0,1487.9 1916.2,1486.7 1916.5,1485.6 1916.8,1484.7 1917.0,1483.8 1917.2,1483.2 1917.5,1482.6 1917.8,1482.3 1918.0,1482.1 1918.2,1482.1 1918.5,1482.3 1918.8,1482.7 1919.0,1483.2 1919.2,1483.9 1919.5,1484.7 1919.8,1485.6 1920.0,1486.7 1920.2,1487.9 1920.5,1489.1 1920.8,1490.5 1921.0,1491.8 1921.2,1493.3 1921.5,1494.7 1921.8,1496.2 1922.0,1497.6 1922.2,1499.1 1922.5,1500.5 1922.8,1501.9 1923.0,1503.3 1923.2,1504.6 1923.5,1505.9 1923.8,1507.1 1924.0,1508.3 1924.2,1509.4 1924.5,1510.5 1924.8,1511.5 1925.0,1512.4 1925.2,1513.3 1925.5,1514.1 1925.8,1514.8 1926.0,1515.5 1926.2,1516.1 1926.5,1516.7 1926.8,1517.3 1927.0,1517.7 1927.2,1518.2 1927.5,1518.6 1927.8,1518.9 1928.0,1519.2 1928.2,1519.5 1928.5,1519.7 1928.8,1519.9 1929.0,1520.1 1929.2,1520.3 1929.5,1520.4 1929.8,1520.6 1930.0,1520.7 1930.2,1520.7 1930.8,1520.9 1931.2,1521.0 1931.8,1521.0 1932.2,1521.0 1932.8,1521.0 1933.2,1521.0 1933.8,1521.0 1934.2,1520.9 1934.8,1520.8 1935.2,1520.7 1935.8,1520.6 1936.2,1520.5 1936.8,1520.4 1937.2,1520.2 1937.8,1520.1 1938.2,1519.9 1938.8,1519.7 1939.2,1519.5 1939.8,1519.2 1940.2,1519.0 1940.8,1518.7 1941.2,1518.4 1941.8,1518.0 1942.2,1517.7 1942.8,1517.2 1943.2,1516.8 1943.8,1516.3 1944.2,1515.6 1944.8,1514.9 1945.2,1514.1 1945.8,1513.2 1946.2,1512.0 1946.8,1510.7 1947.2,1509.0 1947.5,1508.1 1947.8,1507.0 1948.0,1505.8 1948.2,1504.6 1948.5,1503.2 1948.8,1501.7 1949.0,1500.0 1949.2,1498.1 1949.5,1496.1 1949.8,1493.9 1950.0,1491.5 1950.2,1488.9 1950.5,1486.0 1950.8,1482.9 1951.0,1479.6 1951.2,1476.0 1951.5,1472.2 1951.8,1468.1 1952.0,1463.7 1952.2,1459.0 1952.5,1454.0 1952.8,1448.8 1953.0,1443.3 1953.2,1437.5 1953.5,1431.4 1953.8,1425.1 1954.0,1418.6 1954.2,1411.9 1954.5,1405.0 1954.8,1397.9 1955.0,1390.8 1955.2,1383.5 1955.5,1376.3 1955.8,1369.0 1956.0,1361.8 1956.2,1354.8 1956.5,1347.9 1956.8,1341.4 1957.0,1335.2 1957.2,1329.4 1957.5,1324.1 1957.8,1319.4 1958.0,1315.4 1958.2,1312.1 1958.5,1309.6 1958.8,1307.9 1959.0,1307.1 1959.2,1307.1 1959.5,1308.1 1959.8,1309.9 1960.0,1312.6 1960.2,1316.0 1960.5,1320.1 1960.8,1324.9 1961.0,1330.3 1961.2,1336.1 1961.5,1342.4 1961.8,1349.0 1962.0,1355.8 1962.2,1362.9 1962.5,1370.0 1962.8,1377.3 1963.0,1384.5 1963.2,1391.7 1963.5,1398.8 1963.8,1405.8 1964.0,1412.6 1964.2,1419.3 1964.5,1425.7 1964.8,1431.9 1965.0,1437.9 1965.2,1443.6 1965.5,1449.0 1965.8,1454.2 1966.0,1459.0 1966.2,1463.6 1966.5,1467.9 1966.8,1471.9 1967.0,1475.7 1967.2,1479.2 1967.5,1482.4 1967.8,1485.4 1968.0,1488.1 1968.2,1490.7 1968.5,1493.0 1968.8,1495.1 1969.0,1497.0 1969.2,1498.8 1969.5,1500.4 1969.8,1501.8 1970.0,1503.1 1970.2,1504.3 1970.5,1505.3 1970.8,1506.3 1971.0,1507.2 1971.2,1507.9 1971.8,1509.2 1972.2,1510.3 1972.8,1511.1 1973.2,1511.7 1973.8,1512.2 1974.2,1512.5 1974.8,1512.6 1975.2,1512.7 1975.8,1512.6 1976.2,1512.3 1976.8,1511.9 1977.0,1511.6 1977.2,1511.2 1977.5,1510.9 1977.8,1510.4 1978.0,1509.9 1978.2,1509.3 1978.5,1508.7 1978.8,1508.0 1979.0,1507.2 1979.2,1506.3 1979.5,1505.4 1979.8,1504.3 1980.0,1503.2 1980.2,1502.0 1980.5,1500.7 1980.8,1499.3 1981.0,1497.7 1981.2,1496.1 1981.5,1494.4 1981.8,1492.6 1982.0,1490.6 1982.2,1488.6 1982.5,1486.5 1982.8,1484.3 1983.0,1482.0 1983.2,1479.6 1983.5,1477.2 1983.8,1474.7 1984.0,1472.1 1984.2,1469.5 1984.5,1466.8 1984.8,1464.2 1985.0,1461.6 1985.2,1458.9 1985.5,1456.3 1985.8,1453.8 1986.0,1451.4 1986.2,1449.1 1986.5,1446.9 1986.8,1444.8 1987.0,1443.0 1987.2,1441.4 1987.5,1440.0 1987.8,1438.9 1988.0,1438.0 1988.2,1437.5 1988.5,1437.3 1988.8,1437.3 1989.0,1437.7 1989.2,1438.4 1989.5,1439.4 1989.8,1440.6 1990.0,1442.2 1990.2,1443.9 1990.5,1445.9 1990.8,1448.0 1991.0,1450.3 1991.2,1452.7 1991.5,1455.3 1991.8,1457.9 1992.0,1460.6 1992.2,1463.3 1992.5,1466.0 1992.8,1468.8 1993.0,1471.5 1993.2,1474.2 1993.5,1476.9 1993.8,1479.5 1994.0,1482.0 1994.2,1484.4 1994.5,1486.8 1994.8,1489.1 1995.0,1491.3 1995.2,1493.4 1995.5,1495.4 1995.8,1497.4 1996.0,1499.2 1996.2,1500.9 1996.5,1502.5 1996.8,1504.0 1997.0,1505.4 1997.2,1506.8 1997.5,1508.0 1997.8,1509.2 1998.0,1510.2 1998.2,1511.2 1998.5,1512.1 1998.8,1513.0 1999.0,1513.8 1999.2,1514.5 1999.5,1515.1 1999.8,1515.7 2000.0,1516.3 2000.2,1516.8 2000.5,1517.3 2000.8,1517.7 2001.2,1518.4 2001.8,1519.1 2002.2,1519.6 2002.8,1520.1 2003.2,1520.5 2003.8,1520.8 2004.2,1521.1 2004.8,1521.3 2005.2,1521.6 2005.8,1521.8 2006.2,1522.0 2006.8,1522.1 2007.2,1522.3 2007.8,1522.4 2008.2,1522.6 2008.8,1522.7 2009.2,1522.8"/>
<polyline stroke="#FF0000" stroke-width="12.0" points="472.6,1446.2 474.1,1450.8 475.6,1443.7 477.1,1452.8 478.6,1442.0 480.1,1454.7 481.6,1440.3 483.1,1456.6 484.6,1441.1 486.1,1457.1 487.6,1442.5 489.1,1455.4 490.6,1443.8 492.1,1453.7 493.6,1443.2 495.1,1455.3 496.6,1442.6 498.1,1459.2 499.6,1443.7 501.1,1463.0 502.6,1445.2 504.1,1466.9 505.6,1446.7 507.1,1464.5 508.6,1444.9 510.1,1460.8 511.6,1441.5 513.1,1457.1 514.6,1438.2 516.1,1454.3 517.6,1437.7 519.1,1451.9 520.6,1437.7 522.1,1449.5 523.6,1437.7 525.1,1447.1 526.6,1437.7 528.1,1444.7 529.6,1436.0 531.1,1442.3 532.6,1433.7 534.1,1442.3 535.6,1431.7 537.1,1442.3 538.6,1430.3 540.1,1442.3 541.6,1428.9 543.1,1443.2 544.6,1427.6 546.1,1444.1 547.6,1426.8 549.1,1445.0 550.6,1428.8 552.1,1446.0 553.6,1430.9 555.1,1446.5 556.6,1433.0 558.1,1446.5 559.6,1434.0 561.1,1446.5 562.6,1434.6 564.1,1445.5 565.6,1431.6 567.1,1442.8 568.6,1425.3 570.1,1440.1 571.6,1421.6 573.1,1438.7 574.6,1423.0 576.1,1442.0 577.6,1424.3 579.1,1445.4 580.6,1425.9 582.1,1448.7 583.6,1427.5 585.1,1449.8 586.6,1429.1 588.1,1447.8 589.6,1429.8 591.1,1445.9 592.6,1430.1 594.1,1444.3 595.6,1429.9 597.1,1443.4 598.6,1429.5 600.1,1442.5 601.6,1429.4 603.1,1442.0 604.6,1429.8 606.1,1443.5 607.6,1430.6 609.1,1445.0 610.6,1434.7 612.1,1446.5 613.6,1438.8 615.1,1448.0 616.6,1440.0 618.1,1449.6 619.6,1440.8 621.1,1451.2 622.6,1441.6 624.1,1452.9 625.6,1442.6 627.1,1454.5 628.6,1443.6 630.1,1455.8 631.6,1444.6 633.1,1456.5 634.6,1445.4 636.1,1457.2 637.6,1446.0 639.1,1457.7 640.6,1446.5 642.1,1457.6 643.6,1447.1 645.1,1457.5 646.6,1446.5 648.1,1457.4 649.6,1445.7 651.1,1458.0 652.6,1444.8 654.1,1459.3 655.6,1444.8 657.1,1460.6 658.6,1445.9 660.1,1460.9 661.6,1446.9 663.1,1458.7 664.6,1448.0 666.1,1456.6 667.6,1447.5 669.1,1454.4 670.6,1446.9 672.1,1452.3 673.6,1446.3 675.1,1455.6 676.6,1445.7 678.1,1459.3 679.6,1444.9 681.1,1463.0 682.6,1443.0 684.1,1462.1 685.6,1441.2 687.1,1459.8 688.6,1439.3 690.1,1457.6 691.6,1437.5 693.1,1456.8 694.6,1441.7 696.1,1456.6 697.6,1447.2 699.1,1456.5 700.6,1449.7 702.1,1456.0 703.6,1445.8 705.1,1455.0 706.6,1442.0 708.1,1454.0 709.6,1440.7 711.1,1453.1 712.6,1442.1 714.1,1454.4 715.6,1443.5 717.1,1455.6 718.6,1444.9 720.1,1456.9 721.6,1446.2 723.1,1457.9 724.6,1447.5 726.1,1458.3 727.6,1448.5 729.1,1458.8 730.6,1448.8 732.1,1459.2 733.6,1449.0 735.1,1458.3 736.6,1448.6 738.1,1457.1 739.6,1448.0 741.1,1455.9 742.6,1447.4 744.1,1458.7 745.6,1445.9 747.1,1461.5 748.6,1443.6 750.1,1463.5 751.6,1441.3 753.1,1461.6 754.6,1442.1 756.1,1459.8 757.6,1447.2 759.1,1457.9 760.6,1452.3 762.1,1457.4 763.6,1453.4 765.1,1458.9 766.6,1454.0 768.1,1460.4 769.6,1454.0 771.1,1461.6 772.6,1453.2 774.1,1462.0 775.6,1452.5 777.1,1462.3 778.6,1451.3 780.1,1461.0 781.6,1449.1 783.1,1457.6 784.6,1446.8 786.1,1454.2 787.6,1444.6 789.1,1457.3 790.6,1443.9 792.1,1460.9 793.6,1444.9 795.1,1464.5 796.6,1449.2 798.1,1467.2 799.6,1455.7 801.1,1465.1 802.6,1456.4 804.1,1463.0 805.6,1454.9 807.1,1460.8 808.6,1453.4 810.1,1458.5 811.6,1451.8 813.1,1456.3 814.6,1450.1 816.1,1457.4 817.6,1448.7 819.1,1459.3 820.6,1451.4 822.1,1461.1 823.6,1454.2 825.1,1463.0 826.6,1456.9 828.1,1464.2 829.6,1457.5 831.1,1463.7 832.6,1455.3 834.1,1463.1 835.6,1453.1 837.1,1462.6 838.6,1451.0 840.1,1460.4 841.6,1448.8 843.1,1457.7 844.6,1448.1 846.1,1457.0 847.6,1449.5 849.1,1460.9 850.6,1450.8 852.1,1464.1 853.6,1447.8 855.1,1461.1 856.6,1444.4 858.1,1458.1 859.6,1445.3 861.1,1455.1 862.6,1447.9 864.1,1455.6 865.6,1450.0 867.1,1458.0 868.6,1450.0 870.1,1460.5 871.6,1450.0 873.1,1462.1 874.6,1450.0 876.1,1460.2 877.6,1449.3 879.1,1458.3 880.6,1448.3 882.1,1456.4 883.6,1447.3 885.1,1456.5 886.6,1446.3 888.1,1457.4 889.6,1446.4 891.1,1458.3 892.6,1448.5 894.1,1459.2 895.6,1450.6 897.1,1457.5 898.6,1448.4 900.1,1455.7 901.6,1445.4 903.1,1453.9 904.6,1442.5 906.1,1454.2 907.6,1444.1 909.1,1456.4 910.6,1445.8 912.1,1458.6 913.6,1447.2 915.1,1459.2 916.6,1447.3 918.1,1459.0 919.6,1447.4 921.1,1458.8 922.6,1447.5 924.1,1458.9 925.6,1447.5 927.1,1459.3 928.6,1447.5 930.1,1459.6 931.6,1448.5 933.1,1459.9 934.6,1450.3 936.1,1457.2 937.6,1450.9 939.1,1453.6 940.6,1450.9 942.1,1450.5 943.6,1449.3 945.1,1446.4 946.6,1412.3 948.1,1445.4 949.6,1412.3 951.1,1445.3 952.6,1446.9 954.1,1451.2 955.6,1446.8 957.1,1457.0 958.6,1446.5 960.1,1459.1 961.6,1446.1 963.1,1458.8 964.6,1445.8 966.1,1456.1 967.6,1445.5 969.1,1452.6 970.6,1445.1 972.1,1452.1 973.6,1444.4 975.1,1452.1 976.6,1443.6 978.1,1452.7 979.6,1445.0 981.1,1454.5 982.6,1446.7 984.1,1456.3 985.6,1445.4 987.1,1456.6 988.6,1442.4 990.1,1455.5 991.6,1441.5 993.1,1455.4 994.6,1442.4 996.1,1454.9 997.6,1437.4 998.1,1454.0 998.6,1436.3 999.1,1452.7 999.6,1435.8 1000.1,1451.2 1000.6,1435.2 1001.1,1449.7 1001.6,1433.8 1002.1,1447.1 1002.6,1423.5 1003.1,1441.9 1003.6,1422.3 1004.1,1434.5 1004.6,1421.7 1005.1,1427.2 1005.6,1421.3 1006.1,1423.8 1006.6,1419.8 1007.1,1419.5 1007.6,1415.9 1008.1,1413.9 1008.6,1410.1 1009.1,1407.7 1009.6,1404.0 1010.1,1403.4 1010.6,1398.5 1011.1,1408.8 1011.6,1398.9 1012.1,1404.9 1012.6,1402.8 1013.1,1407.8 1013.6,1403.3 1014.1,1414.2 1014.6,1398.9 1015.1,1410.5 1015.6,1403.2 1016.1,1404.5 1016.6,1400.4 1017.1,1398.8 1017.6,1394.7 1018.1,1391.6 1018.6,1386.9 1019.1,1382.3 1019.6,1376.5 1020.1,1370.1 1020.6,1362.5 1021.1,1353.9 1021.6,1343.9 1022.1,1332.5 1022.6,1319.2 1023.1,1304.1 1023.6,1286.9 1024.1,1267.5 1024.6,1245.8 1025.1,1221.8 1025.6,1195.6 1026.1,1167.5 1026.6,1138.1 1027.1,1108.4 1027.6,1079.9 1028.1,1054.3 1028.6,1033.7 1029.1,1020.3 1029.6,1015.4 1030.1,1019.3 1030.6,1030.8 1031.1,1048.8 1031.6,1071.6 1032.1,1097.4 1032.6,1124.6 1033.1,1152.0 1033.6,1178.6 1034.1,1203.8 1034.6,1227.1 1035.1,1248.5 1035.6,1267.8 1036.1,1285.1 1036.6,1300.5 1037.1,1314.0 1037.6,1325.9 1038.1,1336.3 1038.6,1345.3 1039.1,1353.1 1039.6,1359.8 1040.1,1365.8 1040.6,1370.7 1041.1,1375.3 1041.6,1378.7 1042.1,1382.3 1042.6,1384.4 1043.1,1387.5 1043.6,1387.4 1044.1,1391.7 1044.6,1385.0 1045.1,1393.8 1045.6,1388.5 1046.1,1389.2 1046.6,1386.6 1047.1,1384.7 1047.6,1381.7 1048.1,1379.2 1048.6,1376.6 1049.1,1375.5 1049.6,1373.7 1050.1,1375.6 1050.6,1377.0 1051.1,1380.6 1051.6,1385.1 1052.1,1390.0 1052.6,1394.3 1053.1,1398.3 1053.6,1400.5 1054.1,1403.3 1054.6,1402.3 1055.1,1406.6 1055.6,1399.2 1056.1,1411.3 1056.6,1393.8 1057.1,1416.2 1057.6,1388.7 1058.1,1419.9 1058.6,1393.3 1059.1,1424.4 1059.6,1401.0 1060.1,1433.5 1060.6,1405.0 1061.1,1436.5 1061.6,1408.6 1062.1,1437.8 1062.6,1412.3 1063.1,1438.9 1063.6,1417.8 1064.1,1440.0 1065.6,1426.2 1067.1,1440.9 1068.6,1427.3 1070.1,1440.6 1071.6,1426.4 1073.1,1441.2 1074.6,1428.7 1076.1,1439.3 1077.6,1429.7 1079.1,1434.0 1080.6,1425.2 1082.1,1422.8 1083.6,1418.5 1085.1,1414.0 1085.6,1411.7 1086.1,1409.7 1086.6,1406.9 1087.1,1404.1 1087.6,1400.7 1088.1,1396.9 1088.6,1392.4 1089.1,1387.2 1089.6,1381.0 1090.1,1373.8 1090.6,1365.1 1091.1,1354.8 1091.6,1342.5 1092.1,1327.9 1092.6,1310.7 1093.1,1290.6 1093.6,1267.2 1094.1,1240.3 1094.6,1209.9 1095.1,1176.2 1095.6,1139.8 1096.1,1102.0 1096.6,1065.0 1097.1,1031.7 1097.6,1005.8 1098.1,991.0 1098.6,989.5 1099.1,1000.7 1099.6,1022.5 1100.1,1052.3 1100.6,1086.5 1101.1,1122.5 1101.6,1158.0 1102.1,1191.5 1102.6,1222.3 1103.1,1250.0 1103.6,1274.6 1104.1,1296.0 1104.6,1314.5 1105.1,1330.4 1105.6,1344.0 1106.1,1355.5 1106.6,1365.2 1107.1,1373.5 1107.6,1380.5 1108.1,1386.4 1108.6,1391.5 1109.1,1395.9 1109.6,1399.5 1110.1,1402.9 1110.6,1405.5 1111.1,1408.3 1111.6,1410.1 1112.1,1412.5 1112.6,1413.5 1113.1,1415.9 1113.6,1416.1 1114.1,1418.7 1114.6,1417.9 1115.1,1421.0 1115.6,1419.1 1116.1,1422.9 1116.6,1420.5 1117.1,1425.2 1117.6,1423.0 1118.1,1426.7 1118.6,1425.5 1119.1,1426.9 1119.6,1426.5 1120.1,1425.8 1120.6,1424.1 1121.1,1421.4 1121.6,1418.0 1122.1,1414.1 1122.6,1410.3 1123.1,1407.5 1123.6,1406.5 1124.1,1406.6 1124.6,1408.5 1125.1,1411.7 1125.6,1415.3 1126.1,1418.6 1126.6,1421.2 1127.1,1422.8 1127.6,1423.1 1128.1,1422.4 1128.6,1421.1 1129.1,1419.1 1129.6,1416.8 1130.1,1414.0 1130.6,1410.9 1131.1,1407.4 1131.6,1403.5 1132.1,1399.1 1132.6,1394.3 1133.1,1388.8 1133.6,1382.7 1134.1,1375.7 1134.6,1367.8 1135.1,1358.7 1135.6,1348.3 1136.1,1336.3 1136.6,1322.6 1137.1,1306.8 1137.6,1288.7 1138.1,1267.9 1138.6,1244.3 1139.1,1217.5 1139.6,1187.4 1140.1,1153.7 1140.6,1116.3 1141.1,1075.5 1141.6,1031.6 1142.1,985.1 1142.6,937.3 1143.1,890.0 1143.6,845.4 1144.1,806.5 1144.6,776.5 1145.1,758.3 1145.6,753.8 1146.1,763.1 1146.6,785.0 1147.1,817.3 1147.6,857.1 1148.1,901.4 1148.6,947.7 1149.1,993.9 1149.6,1038.5 1150.1,1080.5 1150.6,1119.4 1151.1,1154.8 1151.6,1186.9 1152.1,1215.5 1152.6,1240.9 1153.1,1263.4 1153.6,1283.1 1154.1,1300.3 1154.6,1315.2 1155.1,1328.3 1155.6,1339.6 1156.1,1349.4 1156.6,1358.0 1157.1,1365.4 1157.6,1372.0 1158.1,1377.7 1158.6,1382.8 1159.1,1387.3 1159.6,1391.2 1161.1,1401.1 1162.6,1407.9 1164.1,1414.0 1165.6,1417.2 1167.1,1422.0 1168.6,1422.1 1170.1,1428.3 1171.6,1429.3 1173.1,1433.4 1174.6,1429.8 1176.1,1437.9 1177.6,1437.1 1179.1,1445.9 1180.6,1438.5 1182.1,1448.3 1183.6,1440.1 1185.1,1450.2 1186.6,1442.1 1188.1,1450.6 1189.6,1440.2 1191.1,1450.1 1192.6,1438.1 1194.1,1447.6 1195.6,1436.6 1197.1,1449.2 1198.6,1438.6 1200.1,1450.1 1201.6,1440.0 1203.1,1450.9 1204.6,1439.7 1206.1,1450.9 1207.6,1438.6 1209.1,1450.3 1210.6,1436.1 1212.1,1448.8 1213.6,1434.4 1215.1,1448.9 1216.6,1435.4 1218.1,1456.8 1219.6,1439.9 1221.1,1462.1 1222.6,1439.8 1224.1,1463.9 1225.6,1439.6 1227.1,1461.6 1228.6,1439.4 1230.1,1451.6 1231.6,1442.9 1233.1,1448.3 1234.6,1444.4 1236.1,1451.0 1237.6,1442.8 1239.1,1453.7 1240.6,1441.2 1242.1,1454.0 1243.6,1439.6 1245.1,1452.2 1246.6,1439.4 1248.1,1450.5 1249.6,1439.5 1251.1,1448.7 1252.6,1439.6 1254.1,1450.3 1255.6,1443.8 1257.1,1452.8 1258.6,1448.1 1260.1,1455.3 1261.6,1448.2 1263.1,1457.8 1264.6,1447.1 1266.1,1457.5 1267.6,1446.1 1269.1,1457.2 1270.6,1445.5 1272.1,1456.9 1273.6,1444.9 1275.1,1456.6 1276.6,1444.3 1278.1,1456.3 1279.6,1443.8 1281.1,1456.0 1282.6,1443.3 1284.1,1455.4 1285.6,1442.8 1287.1,1454.8 1288.6,1442.9 1290.1,1454.2 1291.6,1444.1 1293.1,1453.0 1294.6,1445.3 1296.1,1451.2 1297.6,1444.1 1299.1,1449.5 1300.6,1434.4 1302.1,1447.7 1303.6,1431.8 1305.1,1446.5 1306.6,1429.9 1308.1,1445.3 1309.6,1433.1 1311.1,1445.5 1312.6,1436.3 1314.1,1448.5 1315.6,1441.9 1317.1,1451.5 1318.6,1447.5 1320.1,1454.9 1321.6,1448.6 1323.1,1458.4 1324.6,1449.5 1326.1,1461.9 1327.6,1450.4 1329.1,1461.1 1330.6,1450.6 1332.1,1458.3 1333.6,1449.8 1335.1,1455.4 1336.6,1449.1 1338.1,1453.7 1339.6,1448.3 1341.1,1453.2 1342.6,1447.6 1344.1,1455.0 1345.6,1448.8 1347.1,1458.0 1348.6,1450.3 1350.1,1460.3 1351.6,1451.0 1353.1,1457.6 1354.6,1447.8 1356.1,1455.0 1357.6,1444.5 1359.1,1455.4 1360.6,1445.3 1362.1,1457.6 1363.6,1448.1 1365.1,1459.6 1366.6,1450.9 1368.1,1459.1 1369.6,1449.2 1371.1,1458.6 1372.6,1446.2 1374.1,1458.2 1375.6,1443.7 1377.1,1457.7 1378.6,1446.2 1380.1,1457.3 1381.6,1448.7 1383.1,1456.9 1384.6,1449.8 1386.1,1456.6 1387.6,1450.1 1389.1,1456.3 1390.6,1448.8 1392.1,1456.0 1393.6,1447.6 1395.1,1457.2 1396.6,1446.7 1398.1,1459.1 1399.6,1445.8 1401.1,1461.0 1402.6,1444.9 1404.1,1462.7 1405.6,1441.8 1407.1,1460.1 1408.6,1438.4 1410.1,1457.0 1411.6,1437.5 1413.1,1453.4 1414.6,1437.6 1416.1,1451.2 1417.6,1440.6 1419.1,1448.4 1420.6,1439.4 1422.1,1442.6 1422.6,1437.4 1423.1,1439.8 1423.6,1435.7 1424.1,1436.6 1424.6,1433.1 1425.1,1432.6 1425.6,1429.4 1426.1,1427.7 1426.6,1424.2 1427.1,1421.5 1427.6,1417.5 1428.1,1413.6 1428.6,1408.8 1429.1,1403.8 1429.6,1398.0 1430.1,1391.9 1430.6,1385.1 1431.1,1377.9 1431.6,1370.2 1432.1,1362.3 1432.6,1354.3 1433.1,1346.4 1433.6,1338.8 1434.1,1332.1 1434.6,1326.5 1435.1,1322.4 1435.6,1320.0 1436.1,1320.2 1436.6,1321.8 1437.1,1325.6 1437.6,1330.9 1438.1,1337.5 1438.6,1344.8 1439.1,1352.7 1439.6,1360.8 1440.1,1368.7 1440.6,1376.4 1441.1,1383.8 1441.6,1390.6 1442.1,1397.0 1442.6,1402.7 1443.1,1408.0 1443.6,1412.6 1444.1,1417.1 1444.6,1420.5 1445.1,1424.3 1445.6,1426.5 1446.1,1430.0 1446.6,1430.9 1447.1,1434.7 1447.6,1434.0 1448.1,1438.5 1448.6,1436.0 1449.1,1441.9 1449.6,1437.2 1450.1,1444.8 1451.6,1438.1 1453.1,1451.0 1454.6,1439.9 1456.1,1454.3 1457.6,1442.1 1459.1,1455.6 1460.6,1441.9 1462.1,1457.0 1463.6,1449.0 1465.1,1458.9 1466.6,1453.5 1468.1,1460.4 1469.6,1454.8 1471.1,1461.7 1472.6,1454.9 1474.1,1462.3 1475.6,1454.0 1477.1,1462.9 1478.6,1453.7 1480.1,1463.5 1481.6,1455.6 1483.1,1462.5 1484.6,1453.6 1486.1,1460.0 1487.6,1451.1 1489.1,1457.5 1490.6,1449.4 1492.1,1456.3 1493.6,1448.3 1495.1,1457.4 1496.6,1449.0 1498.1,1458.6 1499.6,1450.1 1501.1,1459.3 1502.6,1451.3 1504.1,1459.5 1505.6,1446.7 1507.1,1459.6 1508.6,1444.4 1510.1,1454.5 1511.6,1444.1 1513.1,1448.5 1514.6,1442.3 1516.1,1448.3 1517.6,1440.0 1519.1,1451.0 1520.6,1441.7 1522.1,1453.7 1523.6,1444.3 1525.1,1456.6 1526.6,1447.4 1528.1,1459.9 1529.6,1451.9 1531.1,1463.3 1532.6,1456.1 1534.1,1466.6 1535.6,1457.8 1537.1,1469.9 1538.6,1456.3 1540.1,1469.7 1541.6,1455.0 1543.1,1468.6 1544.6,1455.0 1546.1,1467.5 1547.6,1455.0 1549.1,1466.4 1550.6,1455.0 1552.1,1465.2 1553.6,1454.7 1555.1,1464.0 1556.6,1454.5 1558.1,1463.6 1559.6,1454.3 1561.1,1463.9 1562.6,1454.0 1564.1,1464.2 1565.6,1453.8 1567.1,1464.4 1568.6,1456.9 1570.1,1464.4 1571.6,1460.4 1573.1,1464.4 1574.6,1459.0 1576.1,1464.5 1577.6,1457.6 1579.1,1465.3 1580.6,1456.2 1582.1,1466.0 1583.6,1455.4 1585.1,1466.7 1586.6,1456.4 1588.1,1467.4 1589.6,1457.5 1591.1,1464.9 1592.6,1458.3 1594.1,1461.9 1595.6,1455.9 1597.1,1458.7 1598.6,1453.5 1600.1,1456.2 1601.6,1451.1 1603.1,1459.9 1604.6,1453.9 1606.1,1463.6 1607.6,1456.9 1609.1,1465.6 1610.6,1457.7 1612.1,1466.2 1613.6,1455.8 1615.1,1466.7 1616.6,1452.4 1618.1,1467.3 1619.6,1447.9 1621.1,1468.1 1622.6,1446.0 1624.1,1468.8 1625.6,1444.5 1627.1,1469.2 1628.6,1443.7 1630.1,1467.2 1631.6,1442.8 1633.1,1463.9 1634.6,1445.4 1636.1,1460.9 1637.6,1450.4 1639.1,1460.8 1640.6,1452.8 1642.1,1459.8 1643.6,1455.1 1645.1,1458.8 1646.6,1453.9 1648.1,1452.8 1649.6,1447.7 1651.1,1444.7 1652.6,1439.0 1654.1,1433.6 1655.6,1426.1 1657.1,1417.5 1657.6,1414.0 1658.1,1410.5 1658.6,1406.5 1659.1,1402.4 1659.6,1397.9 1660.1,1393.1 1660.6,1387.9 1661.1,1382.4 1661.6,1376.5 1662.1,1370.3 1662.6,1363.7 1663.1,1356.7 1663.6,1349.3 1664.1,1341.7 1664.6,1333.8 1665.1,1325.8 1665.6,1317.8 1666.1,1309.9 1666.6,1302.3 1667.1,1295.3 1667.6,1288.9 1668.1,1283.5 1668.6,1279.2 1669.1,1276.3 1669.6,1274.6 1670.1,1275.4 1670.6,1280.1 1671.1,1288.6 1671.6,1299.9 1672.1,1312.9 1672.6,1326.4 1673.1,1339.8 1673.6,1352.4 1674.1,1364.1 1674.6,1374.7 1675.1,1384.1 1675.6,1392.4 1676.1,1399.7 1676.6,1406.1 1677.1,1411.8 1677.6,1416.7 1678.1,1421.2 1678.6,1424.8 1679.1,1428.4 1679.6,1431.1 1680.1,1434.2 1680.6,1435.9 1681.1,1438.8 1681.6,1439.6 1682.1,1442.6 1682.6,1442.4 1683.1,1445.7 1683.6,1444.5 1684.1,1448.4 1685.6,1447.1 1687.1,1454.7 1688.6,1449.8 1690.1,1459.2 1691.6,1452.5 1693.1,1461.6 1694.6,1452.1 1696.1,1462.9 1697.6,1451.3 1699.1,1463.7 1700.6,1453.1 1702.1,1463.2 1703.6,1456.3 1705.1,1462.3 1706.6,1455.9 1708.1,1462.0 1709.6,1455.7 1711.1,1464.2 1712.6,1457.1 1714.1,1466.3 1715.6,1455.2 1717.1,1466.0 1718.6,1454.7 1720.1,1464.9 1721.6,1456.3 1723.1,1463.8 1724.6,1458.3 1726.1,1464.1 1727.6,1459.5 1729.1,1465.2 1730.6,1459.2 1732.1,1466.3 1733.6,1458.8 1735.1,1466.4 1736.6,1457.9 1738.1,1465.5 1739.6,1457.3 1741.1,1464.6 1742.6,1457.3 1744.1,1463.7 1745.6,1457.3 1747.1,1464.4 1748.6,1457.9 1750.1,1465.8 1751.6,1459.8 1753.1,1467.2 1754.6,1460.8 1756.1,1468.5 1757.6,1457.8 1759.1,1468.3 1760.6,1457.9 1762.1,1464.7 1763.6,1455.5 1765.1,1461.1 1766.6,1448.7 1768.1,1457.5 1769.6,1446.3 1771.1,1456.9 1772.6,1446.3 1774.1,1458.7 1775.6,1449.0 1777.1,1460.5 1778.6,1450.8 1780.1,1462.3 1781.6,1450.5 1783.1,1463.9 1784.6,1451.7 1786.1,1464.6 1787.6,1453.4 1789.1,1465.2 1790.6,1453.7 1792.1,1465.8 1793.6,1448.3 1795.1,1464.9 1796.6,1446.4 1798.1,1461.9 1799.6,1444.5 1801.1,1458.7 1802.6,1445.2 1804.1,1458.1 1805.6,1446.0 1807.1,1457.4 1808.6,1446.5 1810.1,1455.9 1811.6,1446.1 1813.1,1452.2 1814.6,1444.4 1816.1,1444.6 1816.6,1441.0 1817.1,1440.9 1817.6,1437.7 1818.1,1436.2 1818.6,1432.8 1819.1,1430.1 1819.6,1426.1 1820.1,1422.1 1820.6,1417.2 1821.1,1411.9 1821.6,1405.8 1822.1,1399.1 1822.6,1391.7 1823.1,1383.7 1823.6,1375.0 1824.1,1365.8 1824.6,1356.1 1825.1,1346.1 1825.6,1335.8 1826.1,1325.6 1826.6,1315.6 1827.1,1306.1 1827.6,1297.6 1828.1,1290.3 1828.6,1284.7 1829.1,1281.0 1829.6,1279.2 1830.1,1280.2 1830.6,1282.5 1831.1,1286.7 1831.6,1292.4 1832.1,1299.4 1832.6,1307.3 1833.1,1316.0 1833.6,1325.2 1834.1,1334.6 1834.6,1344.0 1835.1,1353.3 1835.6,1362.4 1836.1,1371.1 1836.6,1379.4 1837.1,1387.3 1837.6,1394.5 1838.1,1401.4 1838.6,1407.5 1839.1,1413.3 1839.6,1418.2 1840.1,1423.1 1840.6,1426.9 1841.1,1431.0 1841.6,1433.6 1842.1,1437.4 1842.6,1438.7 1843.1,1442.5 1843.6,1442.4 1844.1,1446.8 1845.6,1446.2 1847.1,1456.9 1848.6,1447.3 1850.1,1461.8 1851.6,1451.9 1853.1,1462.3 1854.6,1452.9 1856.1,1463.1 1857.6,1458.0 1859.1,1463.5 1860.6,1450.8 1862.1,1462.7 1863.6,1448.8 1865.1,1460.6 1866.6,1448.7 1868.1,1465.2 1869.6,1450.2 1871.1,1469.1 1872.6,1452.4 1874.1,1470.6 1875.6,1454.7 1877.1,1469.3 1878.6,1457.0 1880.1,1467.4 1881.6,1459.6 1883.1,1467.2 1884.6,1462.6 1886.1,1467.0 1887.6,1463.1 1889.1,1466.8 1890.6,1462.3 1892.1,1467.2 1893.6,1460.4 1895.1,1467.4 1896.6,1458.1 1898.1,1466.5 1899.6,1457.3 1901.1,1466.9 1902.6,1456.3 1904.1,1468.4 1905.6,1453.3 1907.1,1467.0 1908.6,1448.0 1910.1,1464.3 1911.6,1442.0 1913.1,1460.7 1914.6,1439.7 1916.1,1457.0 1917.6,1437.5 1919.1,1454.8 1920.6,1435.1 1922.1,1454.0 1923.6,1433.6 1925.1,1456.7 1926.6,1435.2 1928.1,1458.1 1929.6,1440.1 1931.1,1460.0 1932.6,1447.3 1934.1,1461.6 1935.6,1450.5 1937.1,1460.2 1938.6,1449.6 1940.1,1458.3 1941.6,1446.9 1943.1,1455.6 1944.6,1445.9 1946.1,1451.1 1947.6,1443.9 1948.1,1446.2 1948.6,1442.3 1949.1,1443.0 1949.6,1439.8 1950.1,1439.1 1950.6,1436.1 1951.1,1434.3 1951.6,1430.9 1952.1,1428.1 1952.6,1424.2 1953.1,1420.3 1953.6,1415.7 1954.1,1410.8 1954.6,1405.3 1955.1,1399.4 1955.6,1393.1 1956.1,1386.4 1956.6,1379.4 1957.1,1372.4 1957.6,1365.2 1958.1,1358.4 1958.6,1351.9 1959.1,1346.2 1959.6,1341.5 1960.1,1338.1 1960.6,1336.1 1961.1,1336.3 1961.6,1337.5 1962.1,1340.7 1962.6,1345.1 1963.1,1350.6 1963.6,1356.9 1964.1,1363.7 1964.6,1370.8 1965.1,1377.9 1965.6,1384.8 1966.1,1391.5 1966.6,1397.9 1967.1,1403.9 1967.6,1409.3 1968.1,1414.4 1968.6,1418.9 1969.1,1423.1 1969.6,1426.5 1970.1,1430.0 1970.6,1432.4 1971.1,1435.4 1971.6,1436.6 1972.1,1439.4 1972.6,1439.3 1973.1,1442.7 1973.6,1440.4 1974.1,1445.4 1974.6,1440.1 1975.1,1447.2 1975.6,1440.0 1976.1,1446.2 1976.6,1440.6 1977.1,1443.8 1977.6,1440.1 1978.1,1441.2 1978.6,1438.3 1979.1,1438.0 1979.6,1435.3 1980.1,1434.1 1980.6,1431.3 1981.1,1429.5 1981.6,1426.5 1982.1,1424.3 1982.6,1421.2 1983.1,1418.8 1983.6,1415.8 1984.1,1413.6 1984.6,1410.8 1985.1,1409.1 1985.6,1406.8 1986.1,1406.2 1986.6,1404.0 1987.1,1406.2 1987.6,1403.5 1988.1,1406.3 1988.6,1406.1 1989.1,1408.4 1989.6,1409.7 1990.1,1412.3 1990.6,1414.2 1991.1,1417.2 1991.6,1419.5 1992.1,1422.6 1992.6,1425.0 1993.1,1428.2 1993.6,1430.5 1994.1,1433.7 1994.6,1435.6 1995.1,1438.8 1995.6,1440.3 1996.1,1443.5 1996.6,1444.3 1997.1,1447.6 1997.6,1447.5 1998.1,1451.2 1998.6,1450.0 1999.1,1454.4 1999.6,1451.7 2000.1,1457.3 2000.6,1452.8 2001.1,1459.8 2001.6,1453.4 2003.1,1463.7 2004.6,1453.4 2006.1,1466.7 2007.6,1452.3 2009.1,1466.9 2010.6,1457.1 2012.1,1465.6"/>
</g>
<rect x="352" y="280" width="769" height="159" fill="#fff" stroke="#000" stroke-width="2" shape-rendering="crispEdges"/>
<rect x="384" y="318" width="141" height="11" fill="#0000A0" shape-rendering="crispEdges"/>
<rect x="384" y="397" width="141" height="12" fill="#FF0000" shape-rendering="crispEdges"/>
<text font-size="63.5" transform="translate(540.5,345.0) scale(1,1.04)">ZnO-PDF (100979)</text>
<text font-size="63.5" transform="translate(541.5,425.0) scale(1,1.04)">Kn-ZnONPs</text>
<text font-size="60" transform="translate(960.0,760.0) scale(1,1.04)">31.71</text>
<text font-size="60" transform="translate(1349.5,1262.0) scale(1,1.04)">47.34</text>
<text font-size="60" transform="translate(1579.5,1167.7) scale(1,1.04)">56.52</text>
<text font-size="60" transform="translate(1749.0,1187.6) scale(1,1.04)">62.69</text>
<text font-size="60" transform="translate(1910.0,1215.5) scale(1,1.04)">67.76</text>
<text font-size="73" transform="translate(1038.0,706.6) rotate(-90) scale(1,1.04)">(100)</text>
<text font-size="73" transform="translate(1111.2,957.2) rotate(-90) scale(1,1.04)">(002)</text>
<text font-size="73" transform="translate(1178.3,196.7) rotate(-90) scale(1,1.04)">(101)</text>
<text font-size="73" transform="translate(1466.0,1203.3) rotate(-90) scale(1,1.04)">(102)</text>
<text font-size="73" transform="translate(1688.8,1113.6) rotate(-90) scale(1,1.04)">(110)</text>
<text font-size="73" transform="translate(1857.0,1122.0) rotate(-90) scale(1,1.04)">(103)</text>
<text font-size="73" transform="translate(1921.3,1431.6) rotate(-90) scale(1,1.04)">(200)</text>
<text font-size="73" transform="translate(1988.3,1157.1) rotate(-90) scale(1,1.04)">(112)</text>
<text font-size="73" transform="translate(2040.0,1416.3) rotate(-90) scale(1,1.04)">(201)</text>
</svg></body></html>
